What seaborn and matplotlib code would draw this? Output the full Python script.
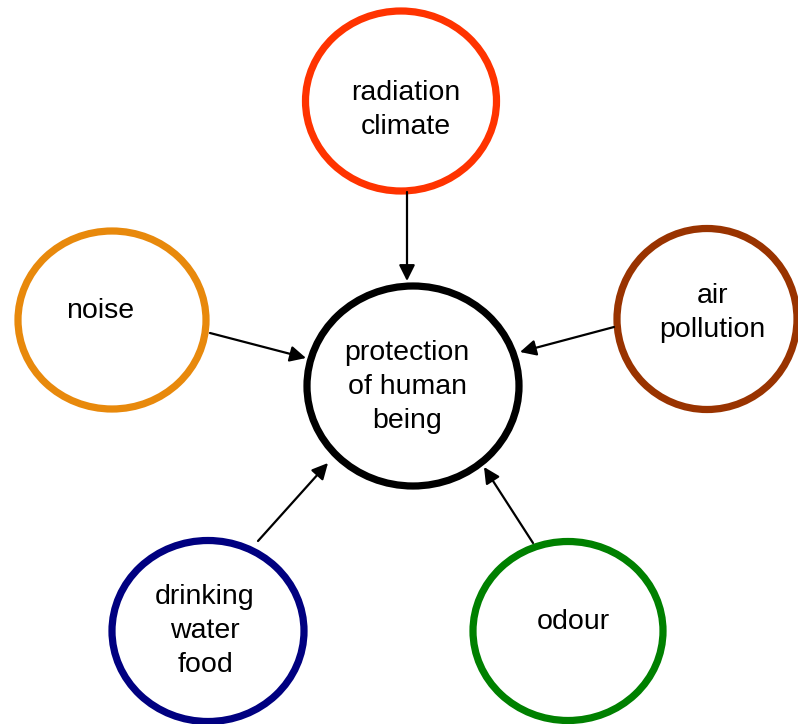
import seaborn as sns
import matplotlib.pyplot as plt
from matplotlib.patches import Ellipse

sns.set_style('white')
plt.rcParams['font.family'] = ['Liberation Sans', 'DejaVu Sans']

# nodes of the diagram (pixel coords of the 798x724 picture)
labels = ['radiation\nclimate', 'noise', 'air\npollution', 'protection\nof human\nbeing',
          'drinking\nwater\nfood', 'odour']
node_x = [401, 112, 707, 413, 208, 568]
node_y = [101, 320, 319, 386, 631, 631]
node_w = [191, 188, 180, 212, 192, 190]
node_h = [180, 178, 181, 200, 181, 179]
text_x = [406, 100, 712, 407, 205, 573]
text_y = [110, 311, 313, 387, 631, 622]
colors = ['#FF3300', '#E8890C', '#993300', '#000000', '#000080', '#008000']

# arrows: start -> end
arrow_from = [(407, 192), (210, 333), (614, 327), (258, 541), (533, 543)]
arrow_to = [(407, 281), (306, 358), (520, 352), (328, 463), (484, 467)]

fig = plt.figure(figsize=(7.98, 7.24), dpi=100)
ax = fig.add_axes([0, 0, 1, 1])
ax.set_xlim(0, 798)
ax.set_ylim(724, 0)
ax.axis('off')

for i in range(len(labels)):
    e = Ellipse((node_x[i], node_y[i]), node_w[i], node_h[i], fill=False,
                edgecolor=colors[i], lw=5.2)
    ax.add_patch(e)
    ax.text(text_x[i], text_y[i], labels[i], ha='center', va='center',
            fontsize=20.5, linespacing=1.42, color='black')

for a, b in zip(arrow_from, arrow_to):
    ax.annotate('', xy=b, xytext=a,
                arrowprops=dict(arrowstyle='-|>', color='black', lw=1.6,
                                mutation_scale=24, shrinkA=0, shrinkB=0))

plt.savefig('out.png', dpi=100)
